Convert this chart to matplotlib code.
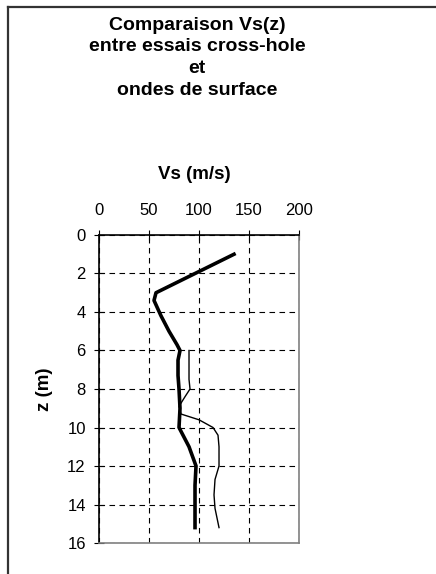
import numpy as np
import matplotlib.pyplot as plt

plt.rcParams['font.family'] = ['Liberation Sans', 'DejaVu Sans']

# surface waves profile (thick)
vs_surface = [135, 57, 55, 62, 70, 78, 81, 79, 79, 80, 81, 80, 85, 90, 97, 96, 96, 96]
z_surface = [1.0, 3.0, 3.4, 4.2, 5.0, 5.7, 6.0, 6.5, 7.3, 8.0, 9.0, 10.0, 10.5, 11.0, 12.0, 13.0, 14.0, 15.2]

# cross-hole profile (thin)
vs_cross = [90, 90, 91, 86, 80, 82, 100, 114, 119, 120, 120, 116, 115, 116, 120]
z_cross = [6.0, 7.5, 8.0, 8.4, 8.9, 9.3, 9.6, 10.0, 10.4, 11.0, 12.0, 12.7, 13.5, 14.2, 15.2]

x_ticks = [0, 50, 100, 150, 200]
y_ticks = [0, 2, 4, 6, 8, 10, 12, 14, 16]

title_lines = ['Comparaison Vs(z)', 'entre essais cross-hole', 'et', 'ondes de surface']

fig = plt.figure(figsize=(4.36, 5.74), dpi=100)
ax = fig.add_axes([0.2271, 0.054, 0.4587, 0.5366])

ax.plot(vs_surface, z_surface, color='black', lw=2.6, solid_joinstyle='round')
ax.plot(vs_cross, z_cross, color='black', lw=1.0)

ax.set_xlim(0, 200)
ax.set_ylim(16, 0)
ax.set_xticks(x_ticks)
ax.set_yticks(y_ticks)
ax.xaxis.tick_top()
ax.xaxis.set_label_position('top')
ax.tick_params(axis='both', direction='inout', length=7, width=0.8, labelsize=12, pad=6)
ax.tick_params(axis='x', pad=9)

ax.grid(True, color='black', lw=0.8, linestyle=(0, (5, 4)))

ax.spines['left'].set_color('black')
ax.spines['top'].set_color('black')
ax.spines['right'].set_color('#808080')
ax.spines['bottom'].set_color('#808080')
for s in ax.spines.values():
    s.set_linewidth(1.2)

ax.set_xlabel('Vs (m/s)', fontsize=13.5, fontweight='bold')
ax.xaxis.set_label_coords(0.475, 1.195, transform=ax.transAxes)
ax.xaxis.label.set_va('center')
ax.set_ylabel('z (m)', fontsize=13.5, fontweight='bold', labelpad=10)

# title, one line at a time
for i, line in enumerate(title_lines):
    fig.text(0.452, 1 - (25 + 21.7 * i) / 574, line,
             ha='center', va='center', fontsize=14, fontweight='bold')

# outer frame (left and top edges only visible)
fig.add_artist(plt.Line2D([0.019, 0.019], [0, 0.988], color='#333333', lw=1.6, transform=fig.transFigure))
fig.add_artist(plt.Line2D([0.019, 1.0], [0.988, 0.988], color='#333333', lw=1.6, transform=fig.transFigure))

fig.savefig('out.png', dpi=100)
